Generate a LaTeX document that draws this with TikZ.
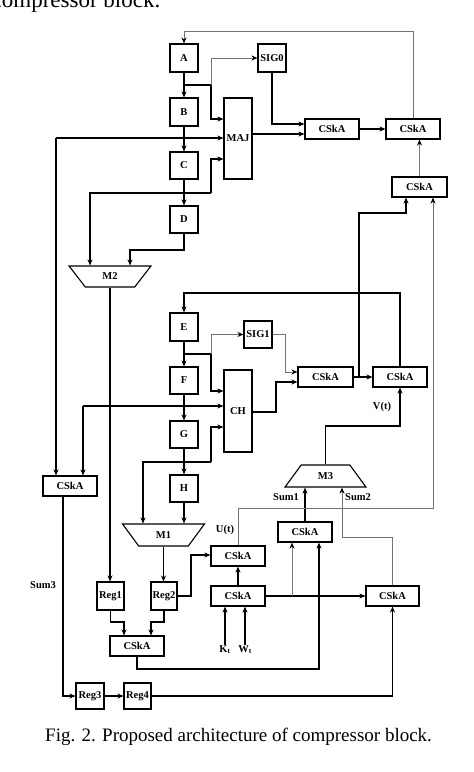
\documentclass[tikz,border=0pt]{standalone}
\usepackage{fontspec}
\setmainfont{Liberation Serif}
\usetikzlibrary{arrows.meta,shapes.geometric}
\begin{document}
\begin{tikzpicture}[x=1pt,y=-1pt,
  lab/.style={font=\fontsize{10.5}{12}\selectfont\bfseries},
  box/.style={draw, line width=1.1pt, inner sep=0pt, lab},
  sq/.style={box, minimum width=28pt, minimum height=28pt},
  cs/.style={box, minimum width=54pt, minimum height=20pt},
  mux/.style={box, trapezium, trapezium stretches=true, trapezium angle=54.5, minimum width=82pt, minimum height=21pt},
  wire/.style={line width=1.1pt},
  arr/.style={wire, -{Stealth[length=6pt,width=5pt]}},
  gwire/.style={line width=1pt, black!55},
  garr/.style={gwire, -{Stealth[length=6pt,width=5pt,color=black]}},
  txt/.style={inner sep=0pt, lab}
]
\useasboundingbox (0,0) rectangle (474,772);
\clip (0,0) rectangle (474,772);

% surrounding text
\node[anchor=base west, inner sep=0pt, font=\fontsize{23}{26}\selectfont] (toptext) at (-8.5,7.5) {compressor block.};
\node[anchor=base west, inner sep=0pt, font=\fontsize{19}{22}\selectfont] (caption) at (45,741.5) {Fig. 2. Proposed architecture of compressor block.};

% upper chain
\node[sq] (A) at (184,58) {A};
\node[sq] (B) at (184,112) {B};
\node[sq, minimum height=27pt] (C) at (184,165.5) {C};
\node[sq, minimum height=27pt] (D) at (184,219.5) {D};
\node[sq] (SIG0) at (272,58) {SIG0};
\node[box, minimum width=28pt, minimum height=81pt] (MAJ) at (238,138.5) {MAJ};
\node[cs] (CS1) at (332,129) {CSkA};
\node[cs] (CS2) at (413,129) {CSkA};
\node[cs, minimum width=55pt] (CS3) at (419.5,187) {CSkA};
\node[mux, shape border rotate=180] (M2) at (110,276.5) {M2};

% middle chain
\node[sq] (E) at (184,327) {E};
\node[sq, minimum height=27pt] (F) at (184,380.5) {F};
\node[sq, minimum height=27pt] (G) at (184,434.5) {G};
\node[sq, minimum height=27pt] (H) at (184,488.5) {H};
\node[sq, minimum height=27pt] (SIG1) at (258,334.5) {SIG1};
\node[box, minimum width=28pt, minimum height=82pt] (CH) at (238,411) {CH};
\node[cs, minimum width=55pt] (CS4) at (325.5,377) {CSkA};
\node[cs] (CS5) at (400,377) {CSkA};
\node[cs] (CSL) at (70,486) {CSkA};
\node[mux, shape border rotate=180, minimum height=22pt] (M1) at (163.5,535) {M1};
\node[mux, minimum width=81pt, minimum height=22pt] (M3) at (325.5,476) {M3};

% lower part
\node[cs] (CS6) at (238,556) {CSkA};
\node[cs] (CS8) at (305,532) {CSkA};
\node[cs] (CS9) at (238,596) {CSkA};
\node[cs, minimum width=53pt] (CS10) at (392.5,596) {CSkA};
\node[sq, minimum width=27pt] (Reg1) at (110.5,596) {Reg1};
\node[sq, minimum width=26pt] (Reg2) at (164,596) {Reg2};
\node[cs] (CS7) at (137,646) {CSkA};
\node[sq, minimum height=26pt] (Reg3) at (90,696) {Reg3};
\node[sq, minimum width=27pt, minimum height=26pt] (Reg4) at (137.5,696) {Reg4};

% labels
\node[txt, anchor=north] (Kt) at (225,645) {K\textsubscript{t}};
\node[txt, anchor=north] (Wt) at (245,645) {W\textsubscript{t}};
\node[txt] (Ut) at (225,530) {U(t)};
\node[txt] (Vt) at (382,407) {V(t)};
\node[txt] (Sum1) at (286,497) {Sum1};
\node[txt] (Sum2) at (358,497) {Sum2};
\node[txt] (Sum3) at (43,585) {Sum3};

% ---------- connectors, upper ----------
\draw[garr] (CS2.north) |- (184,31) -- (A.north);
\draw[arr] (A) -- (B);
\coordinate (jA) at (211,85);
\draw[wire] (184,85) -- (jA);
\draw[garr] (jA) |- (SIG0.west);
\draw[arr] (jA) |- (MAJ.west |- 0,119);
\draw[arr] (B) -- (C);
\coordinate (L1) at (56,138);
\draw[arr] (L1) -- (MAJ.west |- L1);
\draw[arr] (L1) -- (L1 |- CSL.north);
\draw[arr] (C) -- (D);
\coordinate (jC) at (211,193);
\draw[wire] (184,193) -- (jC);
\draw[arr] (jC) |- (MAJ.west |- 0,159);
\draw[arr] (jC) -| (90,0 |- M2.north);
\draw[arr] (D.south) |- (130,250) -- (130,0 |- M2.north);
\draw[arr] (M2.south) -- (M2.south |- Reg1.north);
\draw[arr] (SIG0.south) |- (CS1.west |- 0,124);
\draw[arr] (MAJ.east |- 0,134) -- (CS1.west |- 0,134);
\draw[arr] (CS1) -- (CS2);
\draw[garr] (CS3.north) -- (CS3.north |- CS2.south);

% ---------- connectors, middle ----------
\draw[arr] (CS4) -- (CS5);
\draw[arr] (359,377) |- (406,213) -- (406,0 |- CS3.south);
\draw[arr] (CS5.north) |- (184,293) -- (E.north);
\draw[arr] (E) -- (F);
\coordinate (jE) at (211,354);
\draw[wire] (184,354) -- (jE);
\draw[garr] (jE) |- (SIG1.west);
\draw[arr] (jE) |- (CH.west |- 0,391);
\draw[garr] (SIG1.east) -| (285,372) -- (CS4.west |- 0,372);
\draw[arr] (CH.east |- 0,412) -| (276,382) -- (CS4.west |- 0,382);
\draw[arr] (F) -- (G);
\coordinate (L2) at (83,406);
\draw[arr] (L2) -- (CH.west |- L2);
\draw[arr] (L2) -- (L2 |- CSL.north);
\draw[arr] (G) -- (H);
\coordinate (jG) at (211,462);
\draw[wire] (184,462) -- (jG);
\draw[arr] (jG) |- (CH.west |- 0,427);
\draw[arr] (jG) -| (143,0 |- M1.north);
\draw[arr] (H.south) -- (H.south |- M1.north);
\draw[arr] (M1.south) -- (M1.south |- Reg2.north);
\draw[arr] (M3.north) |- (400,426) -- (CS5.south);

% ---------- connectors, lower ----------
\draw[arr] (63,0 |- CSL.south) |- (Reg3.west);
\draw[arr] (Reg3) -- (Reg4);
\draw[arr] (Reg4.east) -| (CS10.south);
\draw[arr] (Reg1.south) |- (124,622) -- (124,0 |- CS7.north);
\draw[arr] (Reg2.south) |- (151,622) -- (151,0 |- CS7.north);
\draw[arr] (Reg2.east) -| (191,555) -- (CS6.west |- 0,555);
\draw[arr] (CS7.south) |- (319,669) -- (319,0 |- CS8.south);
\draw[arr] (CS9) -- (CS6);
\draw[arr] (CS9) -- (CS10);
\draw[garr] (292,596) -- (292,0 |- CS8.south);
\draw[arr] (Kt.north) -- (Kt.north |- CS9.south);
\draw[arr] (Wt.north) -- (Wt.north |- CS9.south);
\draw[arr] (CS8.north) -- (CS8.north |- M3.south);
\draw[garr] (CS10.north) |- (342,537) -- (342,0 |- M3.south);
\draw[garr] (CS6.north) |- (433,508) -- (433,0 |- CS3.south);
\end{tikzpicture}
\end{document}
